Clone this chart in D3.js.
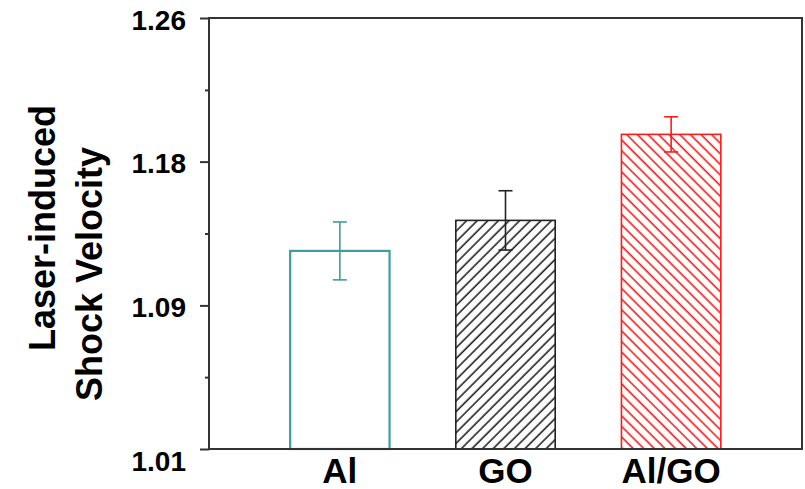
<!DOCTYPE html>
<html>
<head>
<meta charset="utf-8">
<script src="https://cdn.jsdelivr.net/npm/d3@7"></script>
<style>
    body { margin: 0; background: #fff; }
    svg { display: block; font-family: "Liberation Sans", Arial, sans-serif; }
</style>
</head>
<body>
<svg id="chart" width="805" height="489"></svg>
<script>
var categories = ['Al', 'GO', 'Al/GO'],
    values = [1.1249, 1.1426, 1.1925],
    errors = [0.0168, 0.0172, 0.0102],
    tickValues = [1.01, 1.0933, 1.1767, 1.26],
    tickLabels = ['1.01', '1.09', '1.18', '1.26'],
    minorTicks = [1.0517, 1.135, 1.2183],
    yDomain = [1.01, 1.26];

var colors = ['#3d9e9e', '#222222', '#ff1a1a'],
    fills = ['#ffffff', 'url(#hatchGO)', 'url(#hatchAlGO)'];

var svg = d3.select('#chart'),
    margin = {top: 18, right: 3, bottom: 40, left: 209},
    width = 805 - margin.left - margin.right,
    height = 489 - margin.top - margin.bottom;

// hatch patterns for the two filled bars
var defs = svg.append('defs');

function hatch(id, color, angle) {
    var p = defs.append('pattern')
        .attr('id', id)
        .attr('patternUnits', 'userSpaceOnUse')
        .attr('width', 7.5)
        .attr('height', 7.5)
        .attr('patternTransform', 'rotate(' + angle + ')');
    p.append('line')
        .attr('x1', 3).attr('y1', 0)
        .attr('x2', 3).attr('y2', 7.5)
        .style('stroke', color)
        .style('stroke-width', 1.6);
}
hatch('hatchGO', '#222222', 45);
hatch('hatchAlGO', '#ff1a1a', -45);

var g = svg.append('g')
    .attr('transform', 'translate(' + margin.left + ',' + margin.top + ')');

var x = d3.scalePoint()
    .domain(categories)
    .range([0, width])
    .padding(0.79);

var barWidth = x.step() * 0.6;

var y = d3.scaleLinear()
    .domain(yDomain)
    .range([height, 0]);

// bars
g.selectAll('.bar')
    .data(categories)
    .enter().append('rect')
    .attr('class', 'bar')
    .attr('x', function(d) { return x(d) - barWidth / 2; })
    .attr('y', function(d, i) { return y(values[i]); })
    .attr('width', barWidth)
    .attr('height', function(d, i) { return height - y(values[i]); })
    .style('fill', function(d, i) { return fills[i]; })
    .style('stroke', function(d, i) { return colors[i]; })
    .style('stroke-width', function(d, i) { return i === 0 ? 2.2 : 1.6; });

// error bars
var err = g.selectAll('.err')
    .data(categories)
    .enter().append('g')
    .attr('class', 'err')
    .style('stroke', function(d, i) { return colors[i]; })
    .style('stroke-width', 1.6);

err.append('line')
    .attr('x1', function(d) { return x(d); })
    .attr('x2', function(d) { return x(d); })
    .attr('y1', function(d, i) { return y(values[i] + errors[i]); })
    .attr('y2', function(d, i) { return y(values[i] - errors[i]); });

[1, -1].forEach(function(sign) {
    err.append('line')
        .attr('x1', function(d) { return x(d) - 7; })
        .attr('x2', function(d) { return x(d) + 7; })
        .attr('y1', function(d, i) { return y(values[i] + sign * errors[i]); })
        .attr('y2', function(d, i) { return y(values[i] + sign * errors[i]); });
});

// frame
g.append('rect')
    .attr('width', width)
    .attr('height', height)
    .style('fill', 'none')
    .style('stroke', '#333')
    .style('stroke-width', 2);

// y axis, major and minor ticks
var yAxis = g.append('g')
    .call(d3.axisLeft(y)
        .tickValues(tickValues)
        .tickSize(9)
        .tickPadding(14)
        .tickFormat(function(d, i) { return tickLabels[i]; }));

yAxis.select('.domain').remove();
yAxis.selectAll('line').style('stroke', '#333').style('stroke-width', 2);
yAxis.selectAll('text')
    .attr('fill', '#000')
    .style('font-size', '28px')
    .style('font-weight', 'bold')
    .attr('dy', function(d, i) { return i === 0 ? '0.75em' : '0.4em'; });

g.append('g')
    .call(d3.axisLeft(y).tickValues(minorTicks).tickSize(4).tickFormat(''))
    .call(function(a) { a.select('.domain').remove(); })
    .selectAll('line').style('stroke', '#333').style('stroke-width', 2);

// category labels
g.selectAll('.xlabel')
    .data(categories)
    .enter().append('text')
    .attr('class', 'xlabel')
    .attr('x', function(d) { return x(d); })
    .attr('y', height + 34)
    .attr('text-anchor', 'middle')
    .style('font-size', '35px')
    .style('font-weight', 'bold')
    .text(function(d) { return d; });

// y title, two lines
svg.append('text')
    .attr('transform', 'translate(55,228) rotate(-90)')
    .attr('text-anchor', 'middle')
    .style('font-size', '36px')
    .style('font-weight', 'bold')
    .text('Laser-induced');

svg.append('text')
    .attr('transform', 'translate(102,274) rotate(-90)')
    .attr('text-anchor', 'middle')
    .style('font-size', '36px')
    .style('font-weight', 'bold')
    .text('Shock Velocity');
</script>
</body>
</html>
